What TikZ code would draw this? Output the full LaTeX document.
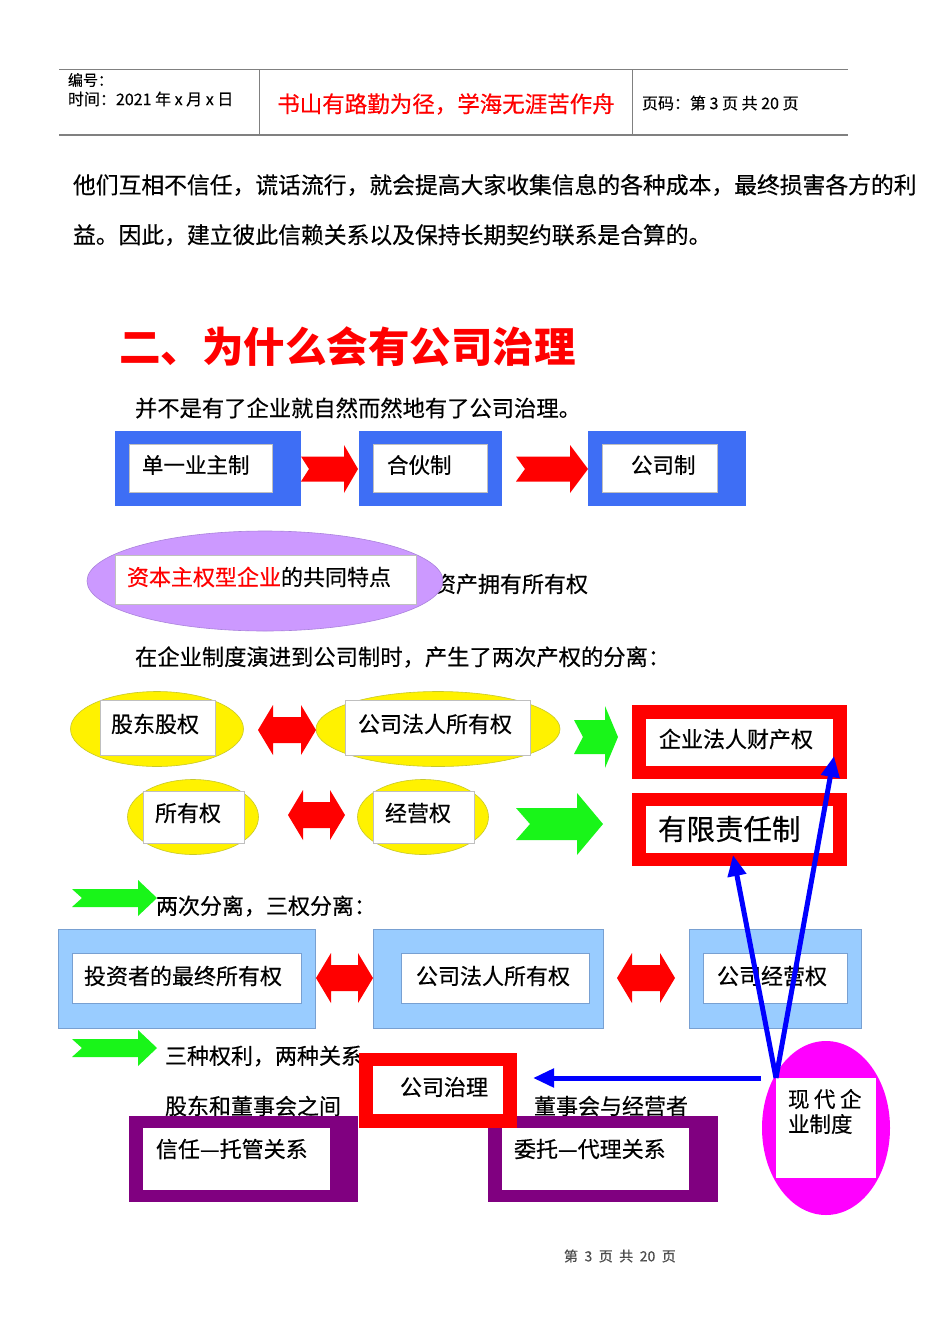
\documentclass[tikz,border=0pt]{standalone}
\usepackage{fontspec}
\setmainfont{Noto Sans CJK SC}[UprightFeatures={FakeBold=0.4}]
\usetikzlibrary{arrows.meta,shapes.geometric}
\definecolor{topblue}{RGB}{62,110,245}
\definecolor{lgreen}{RGB}{25,245,25}
\definecolor{lblue}{RGB}{153,204,255}
\definecolor{lblueedge}{RGB}{120,160,210}
\definecolor{purp}{RGB}{128,0,128}
\definecolor{magen}{RGB}{255,0,255}
\definecolor{lav}{RGB}{204,153,255}
\definecolor{laved}{RGB}{170,130,220}
\definecolor{hdr}{RGB}{128,128,128}
\definecolor{yed}{RGB}{200,200,40}
\newcommand{\fs}[1]{\fontsize{#1}{#1}\selectfont}
% rectangle node: name, x1, y1, x2, y2, style
\newcommand{\mkrect}[6]{\node[#6, minimum width={(#4)-(#2)}, minimum height={(#5)-(#3)}, inner sep=0pt, outer sep=0pt] (#1) at ({((#2)+(#4))/2},{((#3)+(#5))/2}) {};}
% text node: name, x, y, text, style
\newcommand{\mktext}[5]{\node[txt, #5] (#1) at (#2,#3) {#4};}
% notched arrow: xl, xr, yc, halfH, halfBody, headLen, notch, color
\newcommand{\notcharr}[8]{\fill[#8] ({#1},{#3-#5}) -- ({#2-#6},{#3-#5}) -- ({#2-#6},{#3-#4}) -- ({#2},{#3}) -- ({#2-#6},{#3+#4}) -- ({#2-#6},{#3+#5}) -- ({#1},{#3+#5}) -- ({#1+#7},{#3}) -- cycle;}
% double arrow: xl, xr, yc, halfH, halfBody, headLen, color
\newcommand{\dblarr}[7]{\fill[#7] ({#1},{#3}) -- ({#1+#6},{#3-#4}) -- ({#1+#6},{#3-#5}) -- ({#2-#6},{#3-#5}) -- ({#2-#6},{#3-#4}) -- ({#2},{#3}) -- ({#2-#6},{#3+#4}) -- ({#2-#6},{#3+#5}) -- ({#1+#6},{#3+#5}) -- ({#1+#6},{#3+#4}) -- cycle;}
\begin{document}
\begin{tikzpicture}[x=1pt,y=-1pt,
  txt/.style={anchor=west, inner sep=0pt, outer sep=0pt, font=\fs{22}},
  inbox/.style={fill=white, draw=black!25, line width=0.6pt},
  bluearr/.style={draw=blue, line width=5pt, -{Triangle[length=21pt,width=18pt]}}]
\useasboundingbox[fill=white] (0,0) rectangle (950,1344);

% ---------- header ----------
\draw[hdr, line width=1pt] (59,69) -- (848,69);
\draw[hdr, line width=2.5pt] (59,135) -- (848,135);
\draw[hdr, line width=0.8pt] (259,69) -- (259,135);
\draw[hdr, line width=0.8pt] (632,69) -- (632,135);
\mktext{hno}{68}{80}{编号：}{font=\fs{15}}
\mktext{htime}{68}{99}{时间：2021 年 x 月 x 日}{font=\fs{16}}
\node[inner sep=0pt, font=\fs{22.5}, text=red] (hmotto) at (446,104) {书山有路勤为径，学海无涯苦作舟};
\mktext{hpage}{642}{103}{页码：第 3 页 共 20 页}{font=\fs{16}}

% ---------- paragraph ----------
\mktext{p1}{73}{185}{他们互相不信任，谎话流行，就会提高大家收集信息的各种成本，最终损害各方的利}{font=\fs{22.8}}
\mktext{p2}{73}{235}{益。因此，建立彼此信赖关系以及保持长期契约联系是合算的。}{font=\fs{22.8}}

% ---------- title ----------
\mktext{title}{119}{347}{二、为什么会有公司治理}{font=\fs{41.5}\bfseries, text=red}
\mktext{intro}{135}{408}{并不是有了企业就自然而然地有了公司治理。}{font=\fs{22.3}}

% ---------- top row ----------
\mkrect{sole}{115}{431}{301}{506}{fill=topblue}
\mkrect{soleIn}{129}{444}{272}{492}{inbox}
\mktext{soleT}{142}{465}{单一业主制}{font=\fs{21.5}}
\mkrect{part}{359}{431}{502}{506}{fill=topblue}
\mkrect{partIn}{373}{444}{487}{492}{inbox}
\mktext{partT}{387}{465}{合伙制}{font=\fs{21.5}}
\mkrect{corp}{588}{431}{746}{506}{fill=topblue}
\mkrect{corpIn}{602}{444}{717}{492}{inbox}
\mktext{corpT}{631}{465}{公司制}{font=\fs{21.5}}
\notcharr{301}{358}{469}{24}{12.5}{14}{8}{red}
\notcharr{516}{588}{469}{24}{12.5}{18}{9}{red}

% ---------- capitalist ellipse ----------
\mktext{assetT}{434}{584}{资产拥有所有权}{}
\node[ellipse, fill=lav, draw=laved, line width=0.6pt, minimum width=356pt, minimum height=100pt, inner sep=0pt] (capE) at (265,581) {};
\mkrect{capIn}{115}{555}{416}{604}{inbox}
\mktext{capT}{127}{577}{\textcolor{red}{资本主权型企业}的共同特点}{}

\mktext{evol}{135}{657}{在企业制度演进到公司制时，产生了两次产权的分离：}{font=\fs{22.3}}

% ---------- yellow row 1 ----------
\node[ellipse, fill=yellow, draw=yed, line width=0.6pt, minimum width=173pt, minimum height=75pt, inner sep=0pt] (e1) at (157,729) {};
\mkrect{e1In}{100}{700}{215}{755}{inbox}
\mktext{e1T}{111}{724}{股东股权}{}
\node[ellipse, fill=yellow, draw=yed, line width=0.6pt, minimum width=244pt, minimum height=75pt, inner sep=0pt] (e2) at (438,729) {};
\mkrect{e2In}{345}{700}{530}{755}{inbox}
\mktext{e2T}{358}{724}{公司法人所有权}{}
\dblarr{258}{316}{730}{25}{13}{15}{red}
\notcharr{574}{618}{737}{31}{17}{13}{9}{lgreen}
\mkrect{legal}{632}{705}{847}{779}{fill=red}
\mkrect{legalIn}{646}{719}{833}{766}{fill=white}
\mktext{legalT}{659}{739}{企业法人财产权}{}

% ---------- yellow row 2 ----------
\node[ellipse, fill=yellow, draw=yed, line width=0.6pt, minimum width=131pt, minimum height=75pt, inner sep=0pt] (e3) at (193,817) {};
\mkrect{e3In}{143}{791}{244}{843}{inbox}
\mktext{e3T}{155}{813}{所有权}{}
\node[ellipse, fill=yellow, draw=yed, line width=0.6pt, minimum width=131pt, minimum height=75pt, inner sep=0pt] (e4) at (423,817) {};
\mkrect{e4In}{373}{791}{474}{843}{inbox}
\mktext{e4T}{385}{813}{经营权}{}
\dblarr{288}{345}{815}{25}{13}{15}{red}
\notcharr{516}{603}{824}{31}{16}{26}{14}{lgreen}
\mkrect{limited}{632}{793}{847}{866}{fill=red}
\mkrect{limitedIn}{646}{806}{833}{853}{fill=white}
\mktext{limitedT}{658}{829}{有限责任制}{font=\fs{28.5}}

% ---------- separation ----------
\notcharr{72}{157}{898}{18}{9}{19}{10}{lgreen}
\mktext{sepT}{156}{906}{两次分离，三权分离：}{font=\fs{22}}

\mkrect{b1}{58}{929}{315}{1028}{fill=lblue, draw=lblueedge, line width=0.6pt}
\mkrect{b1In}{72}{953}{301}{1003}{fill=white, draw=lblueedge, line width=0.6pt}
\mktext{b1T}{84}{976}{投资者的最终所有权}{}
\mkrect{b2}{373}{929}{603}{1028}{fill=lblue, draw=lblueedge, line width=0.6pt}
\mkrect{b2In}{401}{953}{589}{1003}{fill=white, draw=lblueedge, line width=0.6pt}
\mktext{b2T}{416}{976}{公司法人所有权}{}
\mkrect{b3}{689}{929}{861}{1028}{fill=lblue, draw=lblueedge, line width=0.6pt}
\mkrect{b3In}{703}{953}{847}{1003}{fill=white, draw=lblueedge, line width=0.6pt}
\mktext{b3T}{717}{976}{公司经营权}{}
\dblarr{316}{373}{978}{25}{13}{15}{red}
\dblarr{617}{675}{978}{25}{13}{15}{red}

% ---------- governance ----------
\notcharr{72}{157}{1048}{18}{9}{19}{10}{lgreen}
\mktext{rightsT}{165}{1056}{三种权利，两种关系}{}
\mktext{shT}{165}{1106}{股东和董事会之间}{}
\mktext{bdT}{534}{1106}{董事会与经营者}{}
\mkrect{trust}{129}{1116}{358}{1202}{fill=purp}
\mkrect{trustIn}{143}{1128}{330}{1190}{fill=white}
\mktext{trustT}{156}{1149}{信任—托管关系}{}
\mkrect{agent}{488}{1116}{718}{1202}{fill=purp}
\mkrect{agentIn}{502}{1128}{689}{1190}{fill=white}
\mktext{agentT}{514}{1149}{委托—代理关系}{}
\mkrect{gov}{359}{1053}{517}{1128}{fill=red}
\mkrect{govIn}{373}{1066}{503}{1114}{fill=white}
\mktext{govT}{400}{1087}{公司治理}{}

% ---------- modern enterprise system ----------
\node[ellipse, fill=magen, minimum width=128pt, minimum height=174pt, inner sep=0pt] (modern) at (826,1128) {};
\mkrect{modernIn}{776}{1078}{876}{1178}{fill=white}
\mktext{modernT1}{788}{1099}{现\hspace{4.5pt}代\hspace{4.5pt}企}{font=\fs{21.5}}
\mktext{modernT2}{788}{1124}{业制度}{font=\fs{21.5}}

\coordinate (tipL) at (733,855);
\coordinate (tipR) at (834,756);
\coordinate (hStart) at (761,1078);
\coordinate (tipH) at (533,1078);
\draw[bluearr] (modernIn.north west) -- (tipL);
\draw[bluearr] (modernIn.north west) -- (tipR);
\draw[bluearr] (hStart) -- (tipH);

% ---------- footer ----------
\mktext{footer}{564}{1256}{第\hspace{6.5pt}3\hspace{6.5pt}页\hspace{6.5pt}共\hspace{6.5pt}20\hspace{6.5pt}页}{font=\fs{14}, text=black!70}
\end{tikzpicture}
\end{document}
